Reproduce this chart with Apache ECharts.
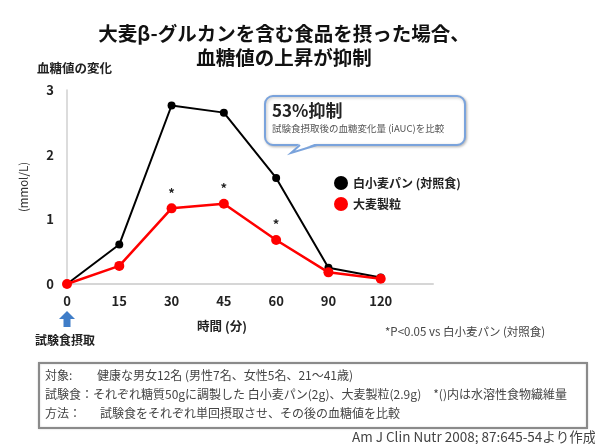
<!DOCTYPE html>
<html>
<head>
<meta charset="utf-8">
<script src="https://cdn.jsdelivr.net/npm/echarts@6/dist/echarts.min.js"></script>
<style>
  html, body { margin: 0; padding: 0; background: #fff; }
  #chart { width: 595px; height: 444px; }
</style>
</head>
<body>
<div id="chart"></div>
<script>
// Time after the test meal (minutes)
const minutes = ['0', '15', '30', '45', '60', '90', '120'];
// Change in blood glucose (mmol/L)
const wheatBread = [0, 0.61, 2.76, 2.65, 1.64, 0.25, 0.10];
const barleyGrain = [0, 0.28, 1.17, 1.24, 0.68, 0.18, 0.08];
// Time points with P<0.05 vs control
const significant = [false, false, true, true, true, false, false];
const yTicks = [0, 1, 2, 3];

const seriesNames = ['白小麦パン (対照食)', '大麦製粒'];
const FONT = '"Noto Sans CJK JP", "Noto Sans", sans-serif';

const chart = echarts.init(document.getElementById('chart'));

const barleyData = barleyGrain.map((v, i) => significant[i]
  ? { value: v, label: { show: true, formatter: '*', position: 'top', distance: 4,
      color: '#222', fontSize: 13, fontWeight: 'bold', fontFamily: FONT } }
  : v);

const BLUE = '#7aa3dc';
const NOTE = '12px ' + FONT;

chart.setOption({
  animation: false,
  textStyle: { fontFamily: FONT },
  title: {
    text: '大麦β-グルカンを含む食品を摂った場合、\n血糖値の上昇が抑制',
    left: 279, top: 17, textAlign: 'center',
    textStyle: { fontSize: 19.5, fontWeight: 'bold', color: '#111', lineHeight: 24, fontFamily: FONT }
  },
  legend: {
    orient: 'vertical', left: 329, top: 171, itemGap: 7,
    icon: 'circle', itemWidth: 14, itemHeight: 14,
    data: seriesNames,
    textStyle: { fontSize: 12, fontWeight: 'bold', color: '#222', fontFamily: FONT }
  },
  grid: { left: 67, right: 162, top: 90, bottom: 160, containLabel: false },
  xAxis: {
    type: 'category', data: minutes, boundaryGap: false, max: minutes.length,
    axisLine: { lineStyle: { color: '#d6d6d6', width: 2 } },
    axisTick: { show: false },
    axisLabel: { color: '#222', fontSize: 13, fontWeight: 'bold', margin: 11, fontFamily: FONT }
  },
  yAxis: {
    type: 'value', min: yTicks[0], max: yTicks[yTicks.length - 1], interval: 1,
    name: '(mmol/L)', nameLocation: 'middle', nameGap: 38, nameRotate: 90,
    nameTextStyle: { fontSize: 11.5, color: '#333', fontFamily: FONT },
    axisLine: { show: true, lineStyle: { color: '#d0d0d0', width: 1.5 } },
    axisTick: { show: false },
    splitLine: { show: false },
    axisLabel: { color: '#222', fontSize: 13, fontWeight: 'bold', margin: 13, fontFamily: FONT }
  },
  series: [
    {
      name: seriesNames[0], type: 'line', data: wheatBread,
      symbol: 'circle', symbolSize: 8,
      lineStyle: { color: '#000', width: 2 },
      itemStyle: { color: '#000' }, z: 2
    },
    {
      name: seriesNames[1], type: 'line', data: barleyData,
      symbol: 'circle', symbolSize: 10,
      lineStyle: { color: '#ff0000', width: 2.5 },
      itemStyle: { color: '#ff0000' }, z: 3
    }
  ],
  graphic: [
    { type: 'text', x: 37, y: 62,
      style: { text: '血糖値の変化', font: 'bold 12.5px ' + FONT, fill: '#222' } },
    // callout bubble: rounded box, then the tail drawn over its bottom edge
    { type: 'rect', shape: { x: 265, y: 96, width: 200, height: 49, r: 8 }, z: 10,
      style: { fill: '#fff', stroke: BLUE, lineWidth: 2,
        shadowColor: 'rgba(0,0,0,0.25)', shadowBlur: 3, shadowOffsetX: 1, shadowOffsetY: 1 } },
    { type: 'polygon', shape: { points: [[300, 143], [291, 153], [317, 143]] }, z: 11,
      style: { fill: '#fff' } },
    { type: 'polyline', shape: { points: [[300, 145], [291, 153], [317, 145]] }, z: 11,
      style: { stroke: BLUE, lineWidth: 2, fill: null } },
    { type: 'text', x: 272, y: 102, z: 12,
      style: { text: '53%抑制', font: 'bold 17px ' + FONT, fill: '#222' } },
    { type: 'text', x: 272, y: 124, z: 12,
      style: { text: '試験食摂取後の血糖変化量 (iAUC)を比較', font: '9.5px ' + FONT, fill: '#555' } },
    { type: 'text', x: 222, y: 320, style: { text: '時間 (分)', font: 'bold 12.5px ' + FONT, fill: '#222', textAlign: 'center' } },
    { type: 'polygon', shape: { points: [[67, 311], [75, 319], [70.5, 319], [70.5, 327], [63.5, 327], [63.5, 319], [59, 319]] },
      style: { fill: '#3f7dc8' } },
    { type: 'text', x: 65, y: 334, style: { text: '試験食摂取', font: 'bold 12px ' + FONT, fill: '#222', textAlign: 'center' } },
    { type: 'text', x: 385, y: 326, style: { text: '*P<0.05 vs 白小麦パン (対照食)', font: '11.5px ' + FONT, fill: '#444' } },
    { type: 'rect', shape: { x: 39, y: 363, width: 548, height: 65 },
      style: { fill: '#fff', stroke: '#8a8a8a', lineWidth: 2,
        shadowColor: 'rgba(0,0,0,0.2)', shadowBlur: 2 } },
    { type: 'text', x: 45, y: 369, style: { text: '対象:', font: NOTE, fill: '#444' } },
    { type: 'text', x: 97, y: 369, style: { text: '健康な男女12名 (男性7名、女性5名、21～41歳)', font: NOTE, fill: '#444' } },
    { type: 'text', x: 45, y: 388, style: { text: '試験食：それぞれ糖質50gに調製した 白小麦パン(2g)、大麦製粒(2.9g)　*()内は水溶性食物繊維量', font: NOTE, fill: '#444' } },
    { type: 'text', x: 45, y: 407, style: { text: '方法：', font: NOTE, fill: '#444' } },
    { type: 'text', x: 100, y: 407, style: { text: '試験食をそれぞれ単回摂取させ、その後の血糖値を比較', font: NOTE, fill: '#444' } },
    { type: 'text', x: 352, y: 430, style: { text: 'Am J Clin Nutr 2008; 87:645-54より作成', font: '13.5px ' + FONT, fill: '#444' } }
  ]
});
</script>
</body>
</html>
